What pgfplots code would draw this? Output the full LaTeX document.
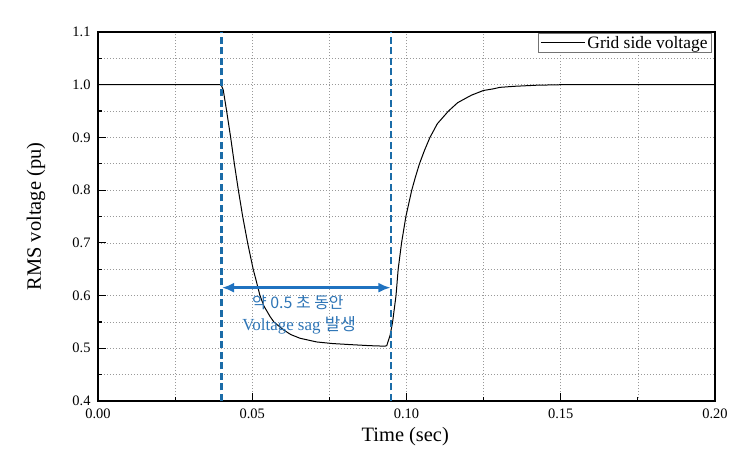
\documentclass[border=0pt]{standalone}
\usepackage{fontspec}
\setmainfont{Liberation Serif}
\newfontfamily\cjk{Noto Sans CJK KR}
\usepackage{pgfplots}
\pgfplotsset{compat=1.18}
\usetikzlibrary{arrows.meta}
\definecolor{dashblue}{HTML}{1B6CA8}
\definecolor{arrowblue}{HTML}{1F72C0}
\definecolor{textblue}{HTML}{2E75B6}

\begin{document}
\begin{tikzpicture}
\begin{axis}[
    name=ax,
    scale only axis, width=617bp, height=369bp,
    xmin=0, xmax=0.2, ymin=0.4, ymax=1.1,
    xtick={0,0.05,0.1,0.15,0.2},
    ytick={0.4,0.5,0.6,0.7,0.8,0.9,1.0,1.1},
    minor x tick num=1, minor y tick num=1,
    scaled x ticks=false, scaled y ticks=false,
    grid=both,
    major grid style={black!40, dash pattern=on 1.5bp off 1.5bp, line width=0.6bp},
    minor grid style={black!40, dash pattern=on 1.5bp off 1.5bp, line width=0.6bp},
    tick pos=left, tick align=inside,
    major tick length=8bp, minor tick length=4bp,
    every tick/.style={black, line width=1.2bp},
    axis line style={line width=1.2bp},
    /pgf/number format/assume math mode=true,
    ticklabel style={font=\fontsize{14.5}{16}\selectfont},
    x tick label style={/pgf/number format/fixed, /pgf/number format/fixed zerofill,
        /pgf/number format/precision=2, yshift=-4bp},
    y tick label style={/pgf/number format/fixed, /pgf/number format/fixed zerofill,
        /pgf/number format/precision=1, xshift=-4bp},
    xlabel={Time (sec)}, ylabel={RMS voltage (pu)},
    label style={font=\fontsize{20.5}{23}\selectfont},
    xlabel style={at={(axis description cs:0.498,-0.097)}, anchor=center},
    ylabel style={at={(axis description cs:-0.1005,0.5)}, anchor=center},
    legend style={at={(rel axis cs:0.995,0.997)}, anchor=north east,
        draw=black!55, line width=0.8bp, font=\fontsize{17.5}{19}\selectfont,
        inner xsep=2bp, inner ysep=0.5bp},
    legend image code/.code={\draw[#1] (0bp,0bp) -- (44bp,0bp);},
]
% grid side voltage
\addplot[black, line width=1bp] coordinates {
(0,1.0) (0.0399,1.0) (0.0406,0.99) (0.0417,0.95) (0.043,0.90) (0.0442,0.85)
(0.0455,0.80) (0.0469,0.75) (0.0485,0.70) (0.0503,0.65) (0.0512,0.63)
(0.0525,0.60) (0.0538,0.58) (0.0558,0.56) (0.057,0.55) (0.0601,0.535)
(0.0625,0.526) (0.0655,0.519) (0.0709,0.512) (0.076,0.509) (0.0817,0.507)
(0.088,0.505) (0.0930,0.504) (0.0936,0.505) (0.0947,0.525) (0.0955,0.55)
(0.0966,0.60) (0.0973,0.65) (0.0984,0.70) (0.0998,0.75) (0.1017,0.80)
(0.1029,0.825) (0.1042,0.85) (0.1058,0.875) (0.1076,0.90) (0.110,0.926)
(0.1136,0.95) (0.1166,0.966) (0.121,0.980) (0.1249,0.989) (0.128,0.992)
(0.1303,0.995) (0.135,0.997) (0.142,0.999) (0.15,1.0) (0.20,1.0)
};
\addlegendentry{Grid side voltage}

% sag start / end markers
\addplot[dashblue, line width=2.5bp, dash pattern=on 7bp off 3.5bp, forget plot]
  coordinates {(0.04,0.4) (0.04,1.1)};
\addplot[dashblue, line width=2.5bp, dash pattern=on 7bp off 3.5bp, forget plot]
  coordinates {(0.095,0.4) (0.095,1.1)};

\addplot[arrowblue, line width=2.5bp,
  {Latex[length=12bp,width=10bp]}-{Latex[length=12bp,width=10bp]}, forget plot]
  coordinates {(0.0402,0.615) (0.0948,0.615)};

\node[text=textblue, font=\fontsize{16}{18}\selectfont] at (axis cs:0.0648,0.586)
  {\cjk 약 0.5 초 동안};
\node[text=textblue, font=\fontsize{17}{19}\selectfont] at (axis cs:0.0652,0.544)
  {Voltage sag {\cjk 발생}};
\end{axis}
\path ([xshift=-98bp,yshift=-59bp]ax.south west) rectangle ([xshift=37bp,yshift=32bp]ax.north east);
\end{tikzpicture}
\end{document}
